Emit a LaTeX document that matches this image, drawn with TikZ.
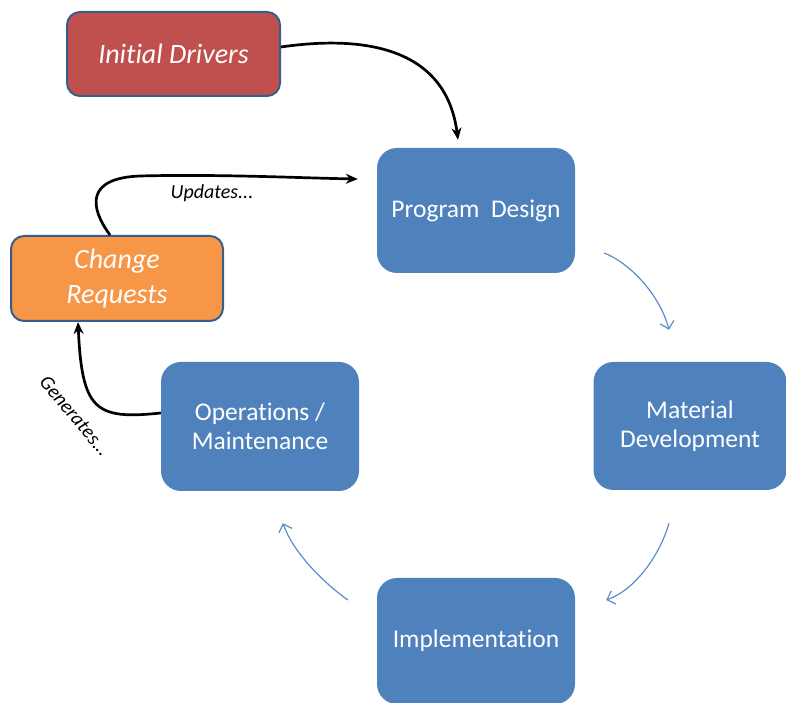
\documentclass[tikz,border=0pt]{standalone}
\usepackage{fontspec}
\setmainfont{Carlito}[Ligatures={NoCommon}]
\usetikzlibrary{arrows.meta,calc}
\definecolor{boxblue}{HTML}{4F81BD}
\definecolor{boxred}{HTML}{C0504D}
\definecolor{boxorange}{HTML}{F79646}
\definecolor{edgeblue}{HTML}{385D8A}
\definecolor{flowblue}{HTML}{5B8DC8}
\begin{document}
\begin{tikzpicture}[x=1pt,y=1pt,
  stage/.style={rectangle, rounded corners=20pt, fill=boxblue, text=white,
    align=center, inner sep=0pt, font=\fontsize{25.5}{29}\selectfont},
  source/.style={rectangle, rounded corners=13pt, draw=edgeblue, line width=2pt,
    text=white, align=center, inner sep=0pt, font=\fontsize{28}{35}\selectfont\itshape},
  cycle/.style={draw=flowblue, line width=1.2pt, -{Straight Barb[length=7pt,width=14pt]}},
  feed/.style={draw=black, line width=2.7pt, -{Stealth[length=12pt,width=10pt]}},
  note/.style={font=\fontsize{20}{22}\selectfont\itshape, inner sep=0pt}
]
\useasboundingbox (0,0) rectangle (786,703);
\clip (0,0) rectangle (786,703);

% main cycle
\node[stage, minimum width=198pt, minimum height=125pt] (pd) at (476,492.5) {Program\ \ Design};
\node[stage, minimum width=193pt, minimum height=128pt] (md) at (690,277) {Material\\Development};
\node[stage, minimum width=198pt, minimum height=126pt] (impl) at (476,62) {Implementation};
\node[stage, minimum width=198pt, minimum height=129pt] (ops) at (260,276.5) {Operations /\\Maintenance};

% inputs to the cycle
\node[source, fill=boxred, minimum width=213pt, minimum height=84pt] (id) at (173.5,649) {Initial Drivers};
\node[source, fill=boxorange, minimum width=212pt, minimum height=85pt] (cr) at (117,424.5) {Change\\Requests};

% cycle connectors
\draw[cycle] ([xshift=29pt,yshift=-42.5pt]pd.east)
  .. controls (630,440) and (660,408) .. ([xshift=-21pt,yshift=32pt]md.north);
\draw[cycle] ([xshift=-21pt,yshift=-33pt]md.south)
  .. controls (660,148) and (635,113) .. ([xshift=31pt,yshift=41pt]impl.east);
\draw[cycle] ([xshift=-29pt,yshift=41pt]impl.west)
  .. controls (320,123) and (292,153) .. ([xshift=23pt,yshift=-32pt]ops.south);

% feedback connectors
\draw[feed] ([yshift=7pt]id.east)
  .. controls (350,666) and (445,663) .. ([xshift=-18pt,yshift=8pt]pd.north);
\coordinate (bend) at (140,527);
\draw[feed] ([xshift=-7pt]cr.north)
  .. controls (90,495) and (85,525) .. (bend)
  .. controls (220,529) and (300,525) .. ([xshift=-19pt,yshift=31.5pt]pd.west);
\draw[feed] ([yshift=13.5pt]ops.west)
  .. controls (95,283) and (82,293) .. ([xshift=-39pt]cr.south);

% connector labels
\node[note] (upd) at (212,510) {Updates...};
\node[note, rotate=-50] (gen) at (75,287) {Generates...};
\end{tikzpicture}
\end{document}
